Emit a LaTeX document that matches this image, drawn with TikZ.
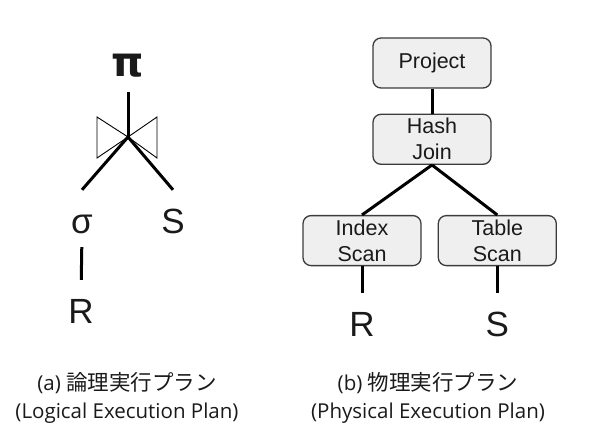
\documentclass[tikz,border=0pt]{standalone}
\usepackage{fontspec}
\setmainfont{Liberation Sans}
\newfontfamily\jpfont{Noto Sans CJK JP}
\newfontfamily\capfont{Open Sans}
\newfontfamily\symfont{DejaVu Sans}
\usetikzlibrary{positioning}
\definecolor{ink}{HTML}{1A1A1A}
\definecolor{opfill}{HTML}{EFEFEF}
\definecolor{opline}{HTML}{3C3C3C}
\newcommand{\jp}[1]{{\jpfont\fontsize{21.5}{28}\selectfont #1}}
\tikzset{
  every node/.style={text=ink},
  opbox/.style={draw=opline,line width=1.3pt,rounded corners=8pt,fill=opfill,align=center,
    minimum width=118pt,minimum height=50pt,inner sep=2pt,
    font=\fontsize{21.5}{26}\selectfont},
  letter/.style={inner sep=0pt,text height=26pt,text depth=0pt,font=\fontsize{35}{35}\selectfont},
  edge/.style={draw=black,line width=3pt},
  bowtie/.style={draw=black,line width=0.9pt,line join=miter},
  caption/.style={align=center,font=\capfont\fontsize{20.5}{28}\selectfont},
}
\begin{document}
\begin{tikzpicture}[x=1pt,y=-1pt]
\useasboundingbox (0,0) rectangle (600,444);

% (a) logical plan
\node[letter,font=\symfont\bfseries\fontsize{41}{41}\selectfont] (pi) at (128,64) {π};
\coordinate (join) at (128,137);
\node[letter] (sigma) at (82,220) {σ};
\node[letter] (s1) at (173,220) {S};
\node[letter] (r1) at (81,310) {R};
\draw[bowtie] (join) -- ++(-31,-20) -- ++(0,41) -- cycle;
\draw[bowtie] (join) -- ++(29,-20) -- ++(0,41) -- cycle;
\draw[edge,shorten <=15pt] (pi.south) -- (join);
\draw[edge] (join) -- ([yshift=17pt]sigma.north);
\draw[edge] (join) -- ([yshift=17pt]s1.north);
\draw[edge,shorten <=14pt,shorten >=17pt] (sigma.south) -- (r1.north);

% (b) physical plan
\node[opbox] (project) at (432,63) {Project};
\node[opbox,below=25pt of project] (hash) {Hash\\Join};
\node[opbox,below=50pt of hash,xshift=-70pt] (index) {Index\\Scan};
\node[opbox,right=16pt of index] (table) {Table\\Scan};
\node[letter,below=44pt of index] (r2) {R};
\node[letter,below=44pt of table] (s2) {S};
\draw[edge] (project) -- (hash);
\draw[edge] (hash.south) -- (index.north);
\draw[edge] (hash.south) -- (table.north);
\draw[edge,shorten >=17pt] (index) -- (r2);
\draw[edge,shorten >=17pt] (table) -- (s2);

% captions
\node[caption] (capa) at (127,398) {(a) \jp{論理実行プラン}\\(Logical Execution Plan)};
\node[caption] (capb) at (428,398) {(b) \jp{物理実行プラン}\\(Physical Execution Plan)};

\end{tikzpicture}
\end{document}
